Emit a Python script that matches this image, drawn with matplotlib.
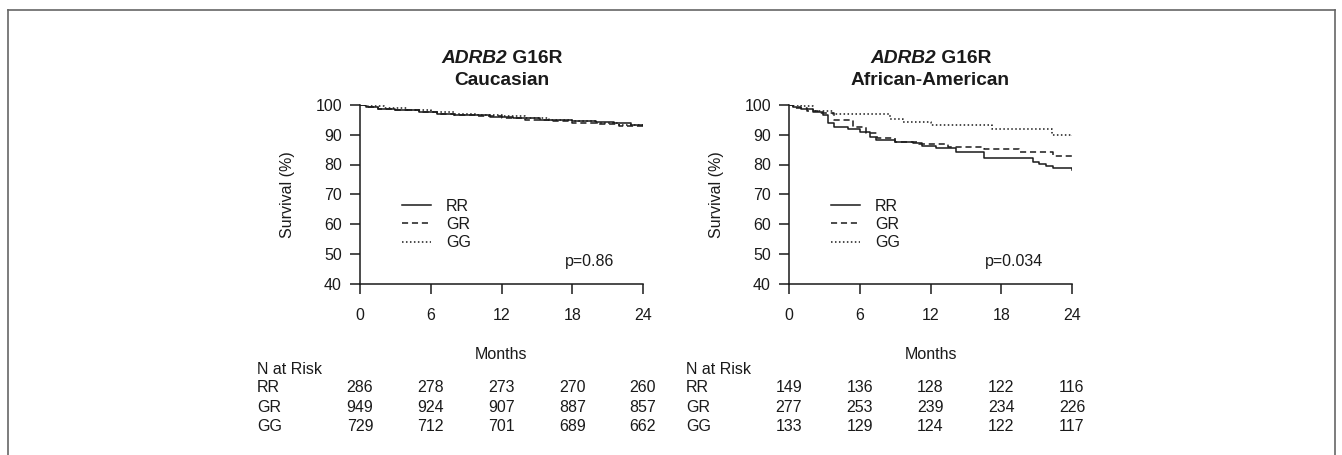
import matplotlib
matplotlib.use("Agg")
import matplotlib.pyplot as plt
from matplotlib.lines import Line2D
import matplotlib.transforms as mtransforms

plt.rcParams['font.family'] = ['Liberation Sans', 'DejaVu Sans']

# x ticks / months
months = [0, 6, 12, 18, 24]
groups = ['RR', 'GR', 'GG']
styles = ['-', (0, (4, 2.5)), (0, (1, 1.6))]

# Caucasian KM curves (months, survival %)
cau_rr_t = [0, 0.5, 1.5, 3, 5, 6.5, 8, 11, 13, 15.3, 18, 20, 21.5, 23, 24]
cau_rr_s = [100, 99.3, 98.8, 98.4, 97.8, 97.1, 96.6, 96.1, 95.6, 95.0, 94.7, 94.2, 93.8, 93.2, 93.0]
cau_gr_t = [0, 0.4, 1.5, 3, 5, 6.5, 8, 10, 12, 14, 16, 18, 20, 22, 24]
cau_gr_s = [100, 99.2, 98.7, 98.3, 97.6, 97.0, 96.6, 96.2, 95.6, 95.0, 94.5, 94.1, 93.5, 92.9, 92.4]
cau_gg_t = [0, 0.6, 2, 4, 6, 8, 10, 12, 14, 16, 18, 20, 22, 24]
cau_gg_s = [100, 99.5, 99.0, 98.4, 97.6, 97.0, 96.7, 96.3, 95.6, 95.0, 94.6, 94.0, 93.4, 92.8]

# African-American KM curves
aa_rr_t = [0, 0.3, 1, 2, 2.9, 3.3, 3.8, 5, 6, 6.9, 7.4, 9, 10.5, 11.3, 12.5, 14.2, 16.5, 20.7, 21.2, 21.8, 22.4, 24]
aa_rr_s = [100, 99.3, 98.5, 97.6, 96.6, 93.8, 92.5, 92.0, 91.0, 89.4, 88.2, 87.6, 87.1, 86.2, 85.4, 84.3, 82.1, 81.0, 80.2, 79.5, 78.7, 78.2]
aa_gr_t = [0, 0.3, 1.5, 2.5, 3.8, 5.4, 6.5, 7.5, 9, 11, 13.5, 16.5, 19.5, 22.4, 24]
aa_gr_s = [100, 98.9, 98.0, 97.2, 95.0, 92.7, 90.5, 88.8, 87.7, 86.9, 86.0, 85.1, 84.3, 82.9, 82.6]
aa_gg_t = [0, 1, 2, 3.7, 8.6, 9.7, 12, 17.2, 22.3, 24]
aa_gg_s = [100, 99.5, 98.1, 97.0, 95.2, 94.2, 93.4, 91.8, 89.9, 89.5]

# numbers at risk
cau_risk = {'RR': [286, 278, 273, 270, 260],
            'GR': [949, 924, 907, 887, 857],
            'GG': [729, 712, 701, 689, 662]}
aa_risk = {'RR': [149, 136, 128, 122, 116],
           'GR': [277, 253, 239, 234, 226],
           'GG': [133, 129, 124, 122, 117]}

panels = [
    ('Caucasian', [(cau_rr_t, cau_rr_s), (cau_gr_t, cau_gr_s), (cau_gg_t, cau_gg_s)], cau_risk, 'p=0.86'),
    ('African-American', [(aa_rr_t, aa_rr_s), (aa_gr_t, aa_gr_s), (aa_gg_t, aa_gg_s)], aa_risk, 'p=0.034'),
]

ink = '#1a1a1a'
fs = 11.5
W, H = 1342, 455
fig = plt.figure(figsize=(W / 100, H / 100), dpi=100)

lefts = [360, 789]
ax_w = 283
ax_top, ax_bot = 105, 283.5

title_parts = []
for (name, curves, risk, pval), lx in zip(panels, lefts):
    ax = fig.add_axes([lx / W, 1 - ax_bot / H, ax_w / W, (ax_bot - ax_top) / H])
    for (t, s), g, ls in zip(curves, groups, styles):
        ax.step(t, s, where='post', color=ink, lw=1.1, linestyle=ls, label=g)
    ax.set_xlim(0, 24)
    ax.set_ylim(40, 100)
    ax.set_xticks(months)
    ax.set_yticks(range(40, 101, 10))
    for sp in ['top', 'right']:
        ax.spines[sp].set_visible(False)
    for sp in ['left', 'bottom']:
        ax.spines[sp].set_linewidth(1.1)
        ax.spines[sp].set_color(ink)
    ax.tick_params(axis='x', direction='out', length=7, width=1.1, pad=11, labelsize=fs, colors=ink)
    ax.tick_params(axis='y', direction='out', length=7, width=1.1, pad=6, labelsize=fs, colors=ink)
    ax.set_ylabel('Survival (%)', fontsize=fs, color=ink)
    ax.yaxis.set_label_coords(-0.23, 0.5)

    leg = ax.legend(loc='upper left', bbox_to_anchor=(0.148, 0.475), frameon=False,
                    fontsize=fs, handlelength=1.85, handletextpad=0.9,
                    labelspacing=0.2, borderpad=0, borderaxespad=0)
    for txt in leg.get_texts():
        txt.set_color(ink)

    ax.text(0.897, 0.126, pval, transform=ax.transAxes, ha='right', va='center',
            fontsize=fs, color=ink)

    ax.text(0.5, -0.395, 'Months', transform=ax.transAxes, ha='center', va='center',
            fontsize=fs, color=ink)

    # title: italic gene name + bold variant
    t1 = ax.text(0.5, 1.263, 'ADRB2', transform=ax.transAxes, ha='right', va='center',
                 fontsize=13.8, fontweight='bold', fontstyle='italic', color=ink)
    t2 = ax.text(0.5, 1.263, ' G16R', transform=ax.transAxes, ha='left', va='center',
                 fontsize=13.8, fontweight='bold', color=ink)
    title_parts.append((ax, t1, t2))
    ax.text(0.5, 1.14, name, transform=ax.transAxes, ha='center', va='center',
            fontsize=13.8, fontweight='bold', color=ink)

    # N at risk table
    trans = mtransforms.blended_transform_factory(ax.transData, ax.transAxes)
    ax.text(-8.73, -0.479, 'N at Risk', transform=trans, ha='left', va='center',
            fontsize=fs, color=ink, clip_on=False)
    for row_y, g in zip([-0.585, -0.695, -0.802], groups):
        ax.text(-8.73, row_y, g, transform=trans, ha='left', va='center',
                fontsize=fs, color=ink, clip_on=False)
        for m, n in zip(months, risk[g]):
            ax.text(m, row_y, str(n), transform=trans, ha='center', va='center',
                    fontsize=fs, color=ink, clip_on=False)

# center the two-part title
fig.canvas.draw()
r = fig.canvas.get_renderer()
for ax, t1, t2 in title_parts:
    w1 = t1.get_window_extent(r).width
    w2 = t2.get_window_extent(r).width
    axw = ax.get_window_extent(r).width
    shift = (w1 - w2) / 2 / axw
    t1.set_x(0.5 + shift)
    t2.set_x(0.5 + shift)

# frame around the figure (bottom edge falls outside the image)
frame_c = '#666666'
x0, x1, y1 = 8 / W, 1335 / W, 1 - 9.5 / H
for xs, ys in [([x0, x1], [y1, y1]), ([x0, x0], [0, y1]), ([x1, x1], [0, y1])]:
    fig.add_artist(Line2D(xs, ys, transform=fig.transFigure, color=frame_c, lw=1.2))

fig.savefig('out.png', dpi=100)
